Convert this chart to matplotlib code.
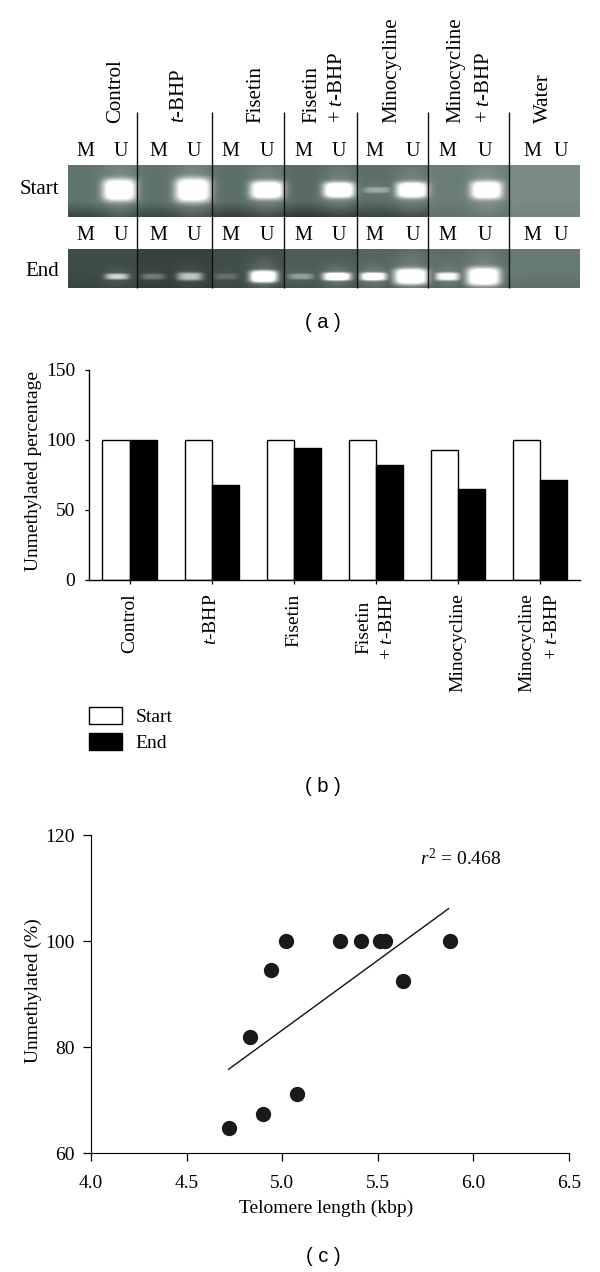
import numpy as np
import matplotlib
matplotlib.use("Agg")
import matplotlib.pyplot as plt

plt.rcParams['font.family'] = ['Liberation Serif', 'DejaVu Serif']
plt.rcParams['mathtext.fontset'] = 'custom'
plt.rcParams['mathtext.rm'] = 'Liberation Serif'
plt.rcParams['mathtext.it'] = 'Liberation Serif:italic'

W, H = 600, 1272
FS = 14
TBHP = r"$\mathit{t}$-BHP"

# panel a, gel
gel_labels = ["Control", TBHP, "Fisetin", "Fisetin\n+ " + TBHP, "Minocycline",
              "Minocycline\n+ " + TBHP, "Water"]
gel_label_x = [116, 179, 256, 325, 392, 470, 543]
gel_label_gap = [1.2, 1.2, 1.2, 1.45, 1.2, 1.65, 1.2]
lane_lines = [137, 212, 284, 357, 428, 509]
m_x = [85, 158, 230, 303, 374, 447, 532]
u_x = [121, 193.5, 267, 339, 413, 485, 561]
# bands: centre x, half width, half height, brightness
start_bands = [(119.5, 17, 11, 1.0), (193, 18, 12, 1.0), (267, 17, 9, 1.0), (339, 16, 8, 1.0),
               (377, 14, 3, 0.3), (412, 16, 8, 1.0), (486.5, 16, 9, 1.0)]
end_bands = [(117, 12, 3, 0.55), (153, 12, 3, 0.22), (190, 13, 4, 0.5), (226, 12, 3, 0.15),
             (263.6, 14, 6, 1.0), (301, 13, 3, 0.3), (337, 14, 4, 1.0), (373.5, 13, 4, 0.95),
             (411, 17, 8, 1.0), (447.5, 12, 4, 0.8), (483.5, 17, 9, 1.0)]
# lane background grey per lane (r, g, b)
start_bg = [(96, 116, 111), (94, 113, 108), (92, 110, 106), (88, 106, 102), (92, 110, 106),
            (106, 124, 119), (122, 138, 133)]
end_bg = [(62, 76, 72), (54, 66, 63), (64, 78, 74), (76, 92, 88), (84, 100, 96),
          (92, 108, 104), (104, 122, 118)]
# how much the bottom edge of each start lane darkens
start_fade = [0.4, 0.4, 0.45, 0.5, 0.4, 0.1, 0.05]

# panel b
categories = ["Control", TBHP, "Fisetin", "Fisetin\n+ " + TBHP, "Minocycline", "Minocycline\n+ " + TBHP]
start_vals = [100, 100, 100, 100, 92.4, 100]
end_vals = [100, 67.4, 94.5, 81.9, 64.7, 71.2]

# panel c
telomere = [4.72, 4.90, 5.08, 4.83, 4.94, 5.02, 5.30, 5.41, 5.51, 5.54, 5.63, 5.88]
unmeth = [64.7, 67.4, 71.2, 81.9, 94.5, 100, 100, 100, 100, 100, 92.4, 100]
fit_x = [4.72, 5.87]
fit_y = [75.8, 106.1]


def axes_px(fig, left, top, right, bottom):
    return fig.add_axes([left / W, 1 - bottom / H, (right - left) / W, (bottom - top) / H])


def gel_image(top, bottom, bands, bg, fade, cy):
    xs = np.arange(68, 580) + 0.5
    ys = np.arange(top, bottom) + 0.5
    edges = [68] + lane_lines + [580]
    img = np.zeros((len(ys), len(xs), 3))
    ramp = np.clip((ys - (bottom - 16)) / 16, 0, 1)
    for i in range(len(bg)):
        mask = (xs >= edges[i]) & (xs < edges[i + 1])
        img[:, mask] = bg[i]
        img[:, mask] *= (1 - fade[i] * ramp)[:, None, None]
    xx, yy = np.meshgrid(xs, ys)
    glow = np.zeros_like(xx)
    for cx, hw, hh, b in bands:
        core = np.exp(-((xx - cx) / hw) ** 4 - ((yy - cy) / hh) ** 4)
        halo = np.exp(-((xx - cx) / (hw * 1.05)) ** 2 - ((yy - cy) / (hh * 3)) ** 2)
        glow = np.maximum(glow, b * (core * 1.2 + 0.2 * halo))
    glow = np.clip(glow, 0, 1)[:, :, None]
    return (img * (1 - glow) + 255 * glow) / 255


fig = plt.figure(figsize=(6, 12.72), dpi=100)

# overlay in pixel units for the gel and captions
ov = fig.add_axes([0, 0, 1, 1])
ov.set_xlim(0, W)
ov.set_ylim(H, 0)
ov.axis('off')
ov.imshow(gel_image(165, 217, start_bands, start_bg, start_fade, 190), extent=(68, 580, 217, 165),
          aspect='auto', interpolation='bilinear')
ov.imshow(gel_image(249, 288, end_bands, end_bg, [0.1] * 7, 276.5), extent=(68, 580, 288, 249),
          aspect='auto', interpolation='bilinear')
ov.set_xlim(0, W)
ov.set_ylim(H, 0)
ov.vlines(lane_lines, 112, 288, color='#111111', lw=1.0)
for x, lab, gap in zip(gel_label_x, gel_labels, gel_label_gap):
    ov.text(x, 123, lab, rotation=90, ha='center', va='bottom', fontsize=15, multialignment='left', linespacing=gap)
for row_y in [152, 236]:
    for x in m_x:
        ov.text(x, row_y, "M", ha='center', va='center', fontsize=14.5)
    for x in u_x:
        ov.text(x, row_y, "U", ha='center', va='center', fontsize=14.5)
ov.text(59, 189, "Start", ha='right', va='center', fontsize=15)
ov.text(59, 271, "End", ha='right', va='center', fontsize=15)
for y, cap in zip([323, 787, 1257], ["( a )", "( b )", "( c )"]):
    ov.text(323, y, cap, ha='center', va='center', fontsize=14.5, family='Liberation Sans')

# panel b
ax = axes_px(fig, 89, 370, 580, 579.5)
pos = np.arange(len(categories))
w = 0.33
b1 = ax.bar(pos - w / 2, start_vals, w, color='white', edgecolor='black', lw=1.0, label='Start')
b2 = ax.bar(pos + w / 2, end_vals, w, color='black', edgecolor='black', lw=1.0, label='End')
ax.set_xlim(-0.494, 5.49)
ax.set_ylim(0, 150)
ax.set_yticks([0, 50, 100, 150])
ax.set_xticks(pos)
ax.set_xticklabels(categories, rotation=90, fontsize=FS, va='top', ha='center')
for t, ma, gap in zip(ax.get_xticklabels(), ['center'] * 5 + ['right'], [1.2, 1.2, 1.2, 1.45, 1.2, 1.65]):
    t.set_multialignment(ma)
    t.set_linespacing(gap)
ax.set_ylabel("Unmethylated percentage", fontsize=FS)
ax.yaxis.set_label_coords((42 - 89) / 491, 0.517)
ax.tick_params(axis='y', labelsize=FS, length=3, width=0.9, pad=7)
ax.tick_params(axis='x', length=3, width=0.9, pad=7)
for s in ['top', 'right']:
    ax.spines[s].set_visible(False)
for s in ['left', 'bottom']:
    ax.spines[s].set_linewidth(1.0)
fig.legend(handles=[b1, b2], loc='upper left', bbox_to_anchor=(89 / W, 1 - 707 / H), frameon=False,
           fontsize=FS, borderpad=0, borderaxespad=0, handlelength=1.7, handleheight=0.93,
           handletextpad=0.7, labelspacing=0.38)

# panel c
ax2 = axes_px(fig, 91, 835, 569, 1153)
ax2.plot(fit_x, fit_y, color='#111111', lw=1.0)
ax2.scatter(telomere, unmeth, s=100, color='#1a1a1a', zorder=3, clip_on=False)
ax2.set_xlim(4.0, 6.5)
ax2.set_ylim(60, 120)
ax2.set_xticks([4.0, 4.5, 5.0, 5.5, 6.0, 6.5])
ax2.set_xticklabels(["4.0", "4.5", "5.0", "5.5", "6.0", "6.5"])
ax2.set_yticks([60, 80, 100, 120])
ax2.tick_params(labelsize=FS, length=6, width=0.9)
ax2.tick_params(axis='x', pad=10)
ax2.tick_params(axis='y', pad=6)
ax2.set_xlabel("Telomere length (kbp)", fontsize=FS)
ax2.xaxis.set_label_coords((326 - 91) / 478, -(1208 - 1153) / 318)
ax2.xaxis.label.set_va('center')
ax2.set_ylabel("Unmethylated (%)", fontsize=FS)
ax2.yaxis.set_label_coords((42 - 91) / 478, (1153 - 991) / 318)
ax2.text(5.72, 115.6, r"$\mathit{r}^{2}$ = 0.468", fontsize=FS, ha='left', va='center')
for s in ['top', 'right']:
    ax2.spines[s].set_visible(False)

fig.savefig("out.png", dpi=100)
plt.close(fig)
